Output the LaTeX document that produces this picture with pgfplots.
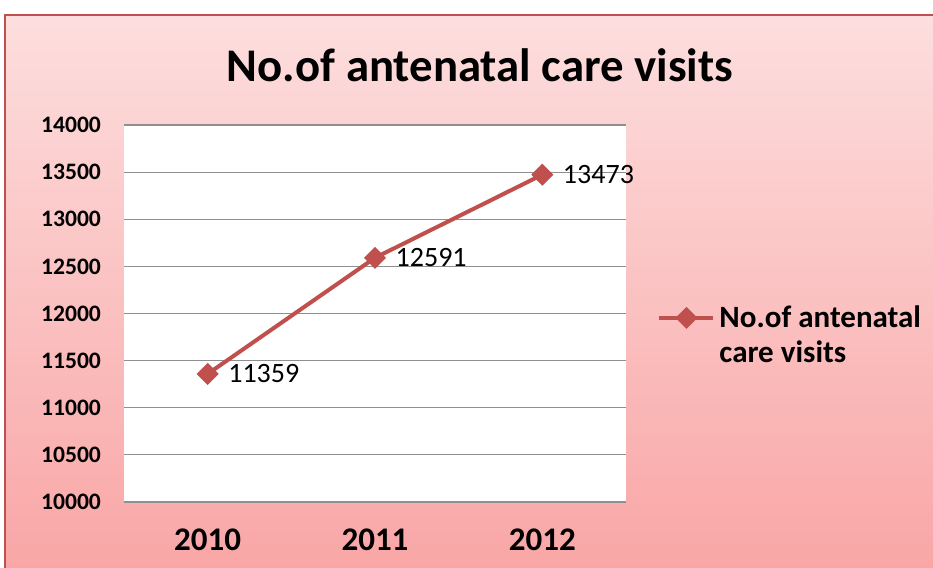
\documentclass[border=0pt]{standalone}
\usepackage{pgfplots}
\pgfplotsset{compat=1.18}
\usepackage{fontspec}
\setmainfont{Carlito}
\definecolor{lineRed}{HTML}{C0504D}
\definecolor{bgTop}{HTML}{FDDEDE}
\definecolor{bgBot}{HTML}{F9A5A5}
\definecolor{gridGray}{HTML}{8F8F8F}
\begin{document}
\begin{tikzpicture}
\clip (0pt,0pt) rectangle (466.5pt,284pt);
\fill[white] (0pt,0pt) rectangle (466.5pt,284pt);
\shade[top color=bgTop,bottom color=bgBot] (2.5pt,-5pt) rectangle (472pt,276.5pt);
\draw[lineRed,line width=1.2pt] (2.5pt,-5pt) rectangle (472pt,276.5pt);
\node[font=\bfseries\fontsize{23.4}{27}\selectfont] at (240pt,251.5pt) {No.of antenatal care visits};
\begin{axis}[
  at={(62pt,33pt)}, anchor=south west,
  width=251pt, height=188.5pt, scale only axis,
  xmin=-0.5, xmax=2.5, ymin=10000, ymax=14000,
  xtick={0,1,2}, xticklabels={2010,2011,2012},
  ytick={10000,10500,...,14000},
  scaled y ticks=false,
  ymajorgrids, grid style={gridGray, line width=0.6pt},
  axis line style={draw=none},
  axis background/.style={fill=white},
  major tick length=0pt,
  /pgf/number format/1000 sep={},
  /pgf/number format/assume math mode=true,
  yticklabel style={font=\bfseries\fontsize{11.8}{13}\selectfont, xshift=-8pt},
  xticklabel style={font=\bfseries\fontsize{16.5}{20}\selectfont, yshift=-10pt},
  legend style={at={(1.05,0.55)}, anchor=north west, draw=none, fill=none,
    font=\bfseries\fontsize{15.5}{17.5}\selectfont, cells={anchor=base west}},
  legend image code/.code={\draw[#1, mark repeat=2, mark phase=2] plot coordinates {(0pt,4.8pt) (13.5pt,4.8pt) (27pt,4.8pt)};},
]
\addplot[lineRed, line width=2pt, mark=square*, mark size=2.9pt, mark options={rotate=45, fill=lineRed, solid},
  nodes near coords,
  every node near coord/.append style={anchor=west, xshift=6pt, yshift=0pt, font=\fontsize{14}{16}\selectfont, text=black}]
  coordinates {(0,11359) (1,12591) (2,13473)};
\addlegendentry{\begin{tabular}[t]{@{}l@{}}No.of antenatal\\care visits\end{tabular}}
\end{axis}
\end{tikzpicture}
\end{document}
